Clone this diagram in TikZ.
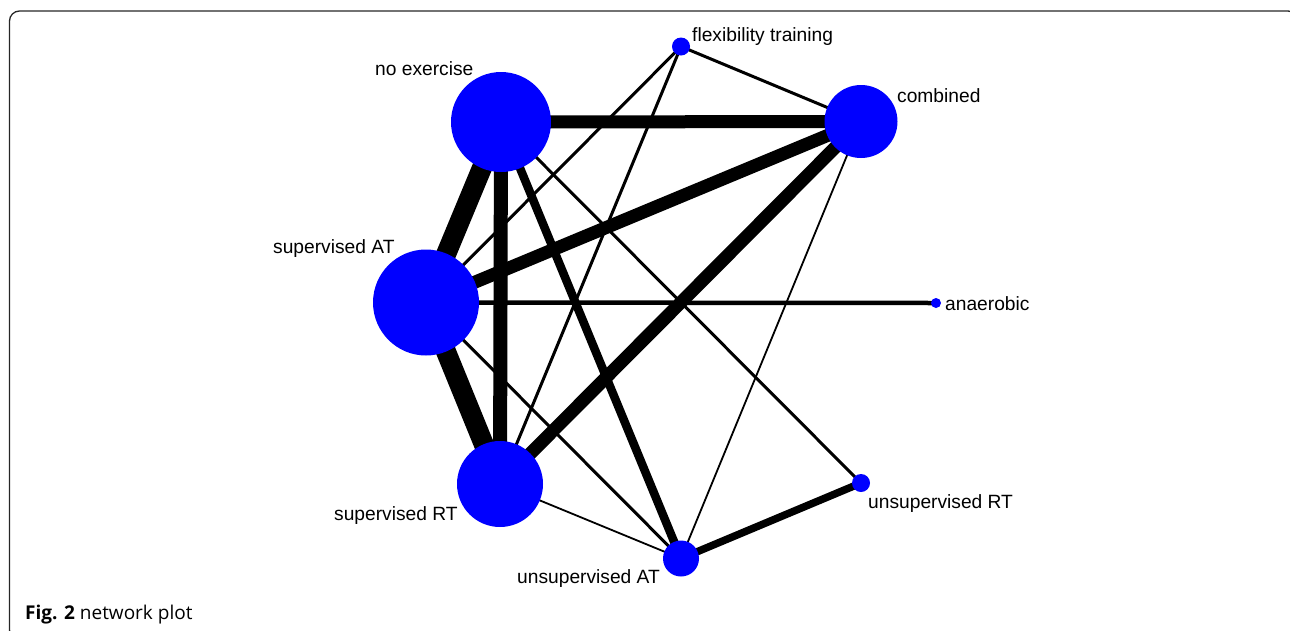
\documentclass[tikz,border=0pt]{standalone}
\usepackage{fontspec}
\setmainfont{Liberation Sans}
\newfontfamily\capfont{Open Sans}
\usetikzlibrary{backgrounds}
\definecolor{nodeblue}{RGB}{0,0,255}
\begin{document}
\begin{tikzpicture}[x=1pt,y=-1pt,
  trt/.style={circle,fill=nodeblue,draw=none,inner sep=0pt},
  lbl/.style={anchor=base west,inner sep=0pt,font=\fontsize{19.2}{22}\selectfont},
  edge/.style={draw=black,line cap=butt}]
\useasboundingbox (0,0) rectangle (1290,630);
\begin{scope}
\clip (0,0) rectangle (1290,630);
\draw[line width=1.3pt,draw=black!85,rounded corners=10pt] (9.5,11) rectangle (1298,640);
\end{scope}
% nodes
\node[trt,minimum size=100pt] (noex) at (501,122) {};
\node[trt,minimum size=73pt] (comb) at (861,121.5) {};
\node[trt,minimum size=18pt] (flex) at (681,46.5) {};
\node[trt,minimum size=106pt] (supAT) at (426,302.5) {};
\node[trt,minimum size=10pt] (anae) at (936,303) {};
\node[trt,minimum size=86pt] (supRT) at (500,484) {};
\node[trt,minimum size=36pt] (unsAT) at (681,558.5) {};
\node[trt,minimum size=18pt] (unsRT) at (861,483) {};
% edges
\begin{pgfonlayer}{background}
\draw[edge,line width=13pt] (noex.center) -- (comb.center);
\draw[edge,line width=20pt] (noex.center) -- (supAT.center);
\draw[edge,line width=14pt] (noex.center) -- (supRT.center);
\draw[edge,line width=8.5pt] (noex.center) -- (unsAT.center);
\draw[edge,line width=3pt] (noex.center) -- (unsRT.center);
\draw[edge,line width=13pt] (supAT.center) -- (comb.center);
\draw[edge,line width=4.5pt] (supAT.center) -- (anae.center);
\draw[edge,line width=20pt] (supAT.center) -- (supRT.center);
\draw[edge,line width=3pt] (supAT.center) -- (flex.center);
\draw[edge,line width=3pt] (supAT.center) -- (unsAT.center);
\draw[edge,line width=13pt] (supRT.center) -- (comb.center);
\draw[edge,line width=3pt] (supRT.center) -- (flex.center);
\draw[edge,line width=1.8pt] (supRT.center) -- (unsAT.center);
\draw[edge,line width=3pt] (flex.center) -- (comb.center);
\draw[edge,line width=1.8pt] (comb.center) -- (unsAT.center);
\draw[edge,line width=7.5pt] (unsAT.center) -- (unsRT.center);
\end{pgfonlayer}
% labels
\node[lbl] (lnoex) at (375,75) {no exercise};
\node[lbl] (lflex) at (692,41) {flexibility training};
\node[lbl] (lcomb) at (897,102) {combined};
\node[lbl] (lsupAT) at (273,253) {supervised AT};
\node[lbl] (lanae) at (945,310) {anaerobic};
\node[lbl] (lsupRT) at (334,520) {supervised RT};
\node[lbl] (lunsRT) at (868,508) {unsupervised RT};
\node[lbl] (lunsAT) at (517,583) {unsupervised AT};
% caption
\node[anchor=base west,inner sep=0pt,font=\capfont\fontsize{19}{22}\selectfont] (cap) at (25,619) {\textbf{Fig. 2} network plot};
\end{tikzpicture}
\end{document}
